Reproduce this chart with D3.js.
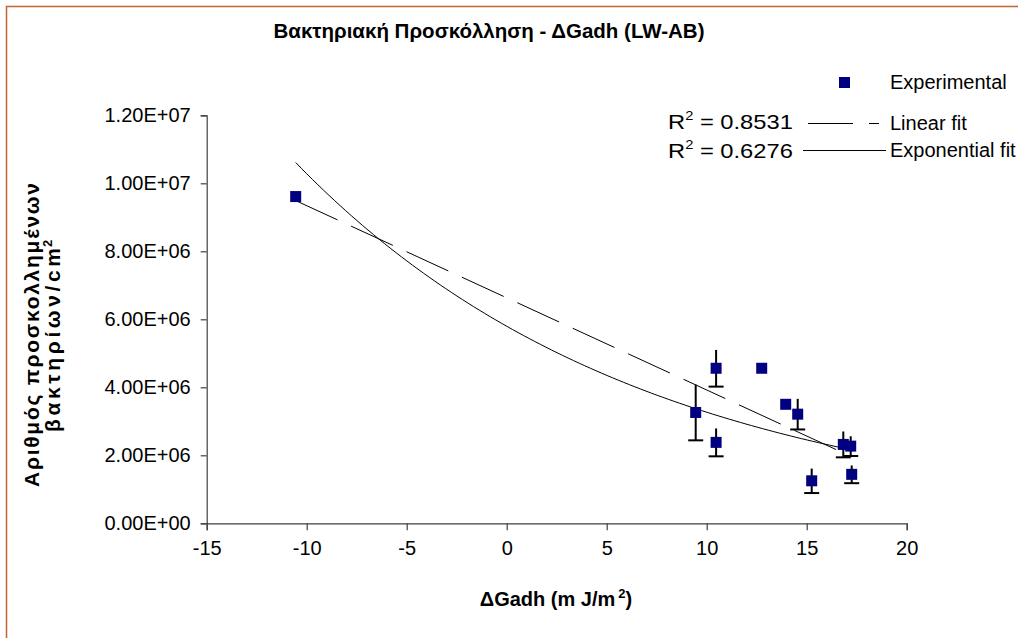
<!DOCTYPE html>
<html>
<head>
<meta charset="utf-8">
<script src="https://cdn.jsdelivr.net/npm/d3@7"></script>
<style>
  html, body { margin: 0; padding: 0; background: #fff; }
  svg { display: block; font-family: "Liberation Sans", Arial, sans-serif; }
</style>
</head>
<body>
<svg id="chart" width="1018" height="638"></svg>
<script>
// ΔGadh (mJ/m²) for each substrate
const dGadh = [-10.55, 9.45, 10.47, 10.47, 12.75, 13.95, 14.55, 15.25, 16.83, 17.20, 17.25];
// adhered bacteria per cm²
const adhered = [9.61e6, 3.26e6, 4.56e6, 2.38e6, 4.56e6, 3.50e6, 3.21e6, 1.25e6, 2.32e6, 2.27e6, 1.44e6];
// standard deviation of each count
const stdDev = [0, 0.82e6, 0.54e6, 0.41e6, 0, 0, 0.45e6, 0.36e6, 0.38e6, 0.29e6, 0.26e6];

const xTicks = [-15, -10, -5, 0, 5, 10, 15, 20];
const yTicks = [0, 2e6, 4e6, 6e6, 8e6, 10e6, 12e6];
const legendLabels = ["Experimental", "Linear fit", "Exponential fit"];
const r2Values = ["0.8531", "0.6276"];

const title = "Βακτηριακή Προσκόλληση - ΔGadh (LW-AB)";
const yTitle = ["Αριθμός προσκολλημένων", "βακτηρίων/cm"];

const svg = d3.select("#chart");

// outer frame
svg.append("rect")
  .attr("x", 6.5).attr("y", 6.5).attr("width", 1100).attr("height", 700)
  .attr("fill", "none").attr("stroke", "#c0652f").attr("stroke-width", 1.5);

const x = d3.scaleLinear().domain([-15, 20]).range([206.7, 906.7]);
const y = d3.scaleLinear().domain([0, 1.2e7]).range([523.3, 115.3]);

// Excel-style scientific label, e.g. 1.20E+07
const sci = v => {
  if (v === 0) return "0.00E+00";
  const e = Math.floor(Math.log10(Math.abs(v)));
  const m = v / Math.pow(10, e);
  return m.toFixed(2) + "E" + (e < 0 ? "-" : "+") + String(Math.abs(e)).padStart(2, "0");
};

// axes
const yAxis = svg.append("g")
  .attr("transform", `translate(${x(-15)},0)`)
  .call(d3.axisLeft(y).tickValues(yTicks).tickFormat(sci).tickSize(6).tickPadding(10));
const xAxis = svg.append("g")
  .attr("transform", `translate(0,${y(0)})`)
  .call(d3.axisBottom(x).tickValues(xTicks).tickFormat(d3.format("d")).tickSize(7).tickPadding(11));
[xAxis, yAxis].forEach(g => {
  g.select(".domain").attr("stroke", "#404040").attr("stroke-width", 1.2);
  g.selectAll(".tick line").attr("stroke", "#404040").attr("stroke-width", 1.2);
  g.selectAll(".tick text").attr("fill", "#000").style("font-size", "20px")
    .style("font-family", "Liberation Sans, Arial, sans-serif");
});
xAxis.selectAll(".tick text").text(d => d < 0 ? "-" + Math.abs(d) : d);

// least-squares fits
const mx = d3.mean(dGadh);
const my = d3.mean(adhered);
const sxx = d3.sum(dGadh, v => (v - mx) ** 2);
const slope = d3.sum(dGadh, (v, i) => (v - mx) * (adhered[i] - my)) / sxx;
const intercept = my - slope * mx;
const logY = adhered.map(Math.log);
const mly = d3.mean(logY);
const bExp = d3.sum(dGadh, (v, i) => (v - mx) * (logY[i] - mly)) / sxx;
const aExp = Math.exp(mly - bExp * mx);

const [xMin, xMax] = d3.extent(dGadh);

// error bars (cap at the lower end)
const eb = svg.append("g").attr("stroke", "#000").attr("stroke-width", 2);
dGadh.forEach((xv, i) => {
  if (!stdDev[i]) return;
  eb.append("line")
    .attr("x1", x(xv)).attr("x2", x(xv))
    .attr("y1", y(adhered[i] + stdDev[i])).attr("y2", y(adhered[i] - stdDev[i]));
  eb.append("line")
    .attr("x1", x(xv) - 7.5).attr("x2", x(xv) + 7.5)
    .attr("y1", y(adhered[i] - stdDev[i])).attr("y2", y(adhered[i] - stdDev[i]));
});

// linear trend line
svg.append("line")
  .attr("x1", x(xMin)).attr("y1", y(intercept + slope * xMin))
  .attr("x2", x(xMax)).attr("y2", y(intercept + slope * xMax))
  .attr("stroke", "#000").attr("stroke-width", 1).attr("stroke-dasharray", "46,15");

// exponential trend curve
const expPts = d3.range(0, 101).map(k => {
  const xv = xMin + (xMax - xMin) * k / 100;
  return [xv, aExp * Math.exp(bExp * xv)];
});
svg.append("path")
  .attr("d", d3.line().x(d => x(d[0])).y(d => y(d[1]))(expPts))
  .attr("fill", "none").attr("stroke", "#000").attr("stroke-width", 1);

// data markers
svg.append("g").selectAll("rect")
  .data(dGadh)
  .join("rect")
  .attr("x", (d) => x(d) - 5.5)
  .attr("y", (d, i) => y(adhered[i]) - 5.5)
  .attr("width", 11).attr("height", 11)
  .attr("fill", "#000080");

// title
svg.append("text")
  .attr("x", 489).attr("y", 38).attr("text-anchor", "middle")
  .style("font-size", "20.5px").style("font-weight", "bold")
  .text(title);

// x axis title
const xt = svg.append("text")
  .attr("x", 556).attr("y", 606).attr("text-anchor", "middle")
  .style("font-size", "20px").style("font-weight", "bold");
xt.append("tspan").text("ΔGadh (m J/m");
xt.append("tspan").attr("dx", 3).attr("dy", -8).style("font-size", "13px").text("2");
xt.append("tspan").attr("dy", 8).text(")");

// y axis title (two rotated lines)
const yt = svg.append("g").attr("transform", "translate(0,331) rotate(-90)");
yt.append("text").attr("x", -4).attr("y", 39).attr("text-anchor", "middle")
  .attr("textLength", 304).attr("lengthAdjust", "spacing")
  .style("font-size", "21px").style("font-weight", "bold").text(yTitle[0]);
yt.append("text").attr("x", -9).attr("y", 60).attr("text-anchor", "middle")
  .attr("textLength", 184).attr("lengthAdjust", "spacing")
  .style("font-size", "21px").style("font-weight", "bold").text(yTitle[1]);
yt.append("text").attr("x", 84).attr("y", 52)
  .style("font-size", "13px").style("font-weight", "bold").text("2");

// legend
const lg = svg.append("g").style("font-size", "20px");
lg.append("rect").attr("x", 839).attr("y", 77).attr("width", 11).attr("height", 11).attr("fill", "#000080");
lg.append("text").attr("x", 890).attr("y", 89).text(legendLabels[0]);
lg.append("line").attr("x1", 808).attr("x2", 879).attr("y1", 123.5).attr("y2", 123.5)
  .attr("stroke", "#000").attr("stroke-width", 1).attr("stroke-dasharray", "45,16");
lg.append("text").attr("x", 890).attr("y", 130).text(legendLabels[1]);
lg.append("line").attr("x1", 803).attr("x2", 886).attr("y1", 150.5).attr("y2", 150.5)
  .attr("stroke", "#000").attr("stroke-width", 1);
lg.append("text").attr("x", 890).attr("y", 157).text(legendLabels[2]);

// R² labels of the two trend lines
r2Values.forEach((v, i) => {
  const base = [129, 158][i];
  const t = svg.append("text")
    .attr("transform", `translate(668,${base}) scale(1.13,1)`)
    .style("font-size", "21px");
  t.append("tspan").text("R");
  t.append("tspan").attr("dy", -9).style("font-size", "13px").text("2");
  t.append("tspan").attr("dy", 9).text(" = " + v);
});
</script>
</body>
</html>
